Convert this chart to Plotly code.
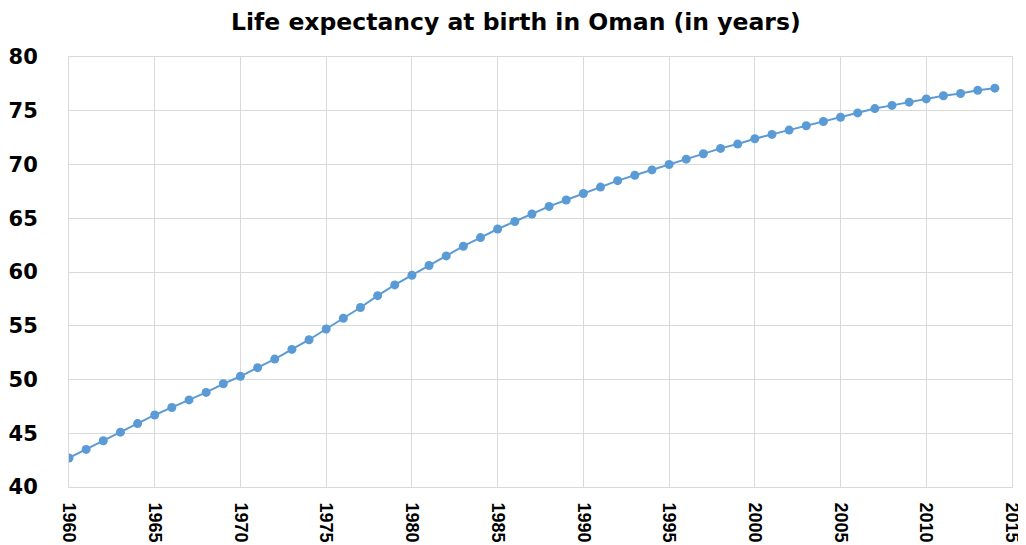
import plotly.graph_objects as go

years = list(range(1960, 2015))
life_expectancy = [
    42.7, 43.5, 44.3, 45.1, 45.9, 46.7, 47.4, 48.1, 48.8, 49.6,
    50.3, 51.1, 51.9, 52.8, 53.7, 54.7, 55.7, 56.7, 57.8, 58.8,
    59.7, 60.6, 61.5, 62.4, 63.2, 64.0, 64.7, 65.4, 66.1, 66.7,
    67.3, 67.9, 68.5, 69.0, 69.5, 70.0, 70.5, 71.0, 71.5, 71.9,
    72.4, 72.8, 73.2, 73.6, 74.0, 74.4, 74.8, 75.2, 75.5, 75.8,
    76.1, 76.4, 76.6, 76.9, 77.1,
]

blue = "#5B9BD5"
grid = "#D9D9D9"

fig = go.Figure(go.Scatter(
    x=years, y=life_expectancy, mode="lines+markers",
    line=dict(color=blue, width=2),
    marker=dict(color=blue, size=9),
))

# page body adds an 8px offset, margins compensate for it
fig.update_layout(
    width=1026, height=545,
    paper_bgcolor="white", plot_bgcolor="white",
    margin=dict(l=61, r=22, t=49, b=66),
    font=dict(family="DejaVu Sans", color="#1a1a1a"),
    title=dict(text="<b>Life expectancy at birth in Oman (in years)</b>",
               x=0.495, xanchor="center", y=0.974, yanchor="middle",
               font=dict(size=23.5, family="DejaVu Sans", color="black")),
    showlegend=False,
)
fig.update_xaxes(
    range=[1960, 2015], dtick=5, tick0=1960, tickangle=90,
    showgrid=True, gridcolor=grid, gridwidth=1,
    showline=True, linecolor=grid, mirror=True, zeroline=False,
    tickfont=dict(size=18, family="Liberation Sans", color="black", weight="bold"),
    ticklabelstandoff=11, automargin=False,
)
fig.update_yaxes(
    range=[40, 80], dtick=5,
    showgrid=True, gridcolor=grid, gridwidth=1,
    showline=True, linecolor=grid, mirror=True, zeroline=False,
    tickfont=dict(size=21, family="DejaVu Sans", color="black", weight="bold"),
    ticklabelstandoff=26, automargin=False,
)

fig.write_html("out.html")
